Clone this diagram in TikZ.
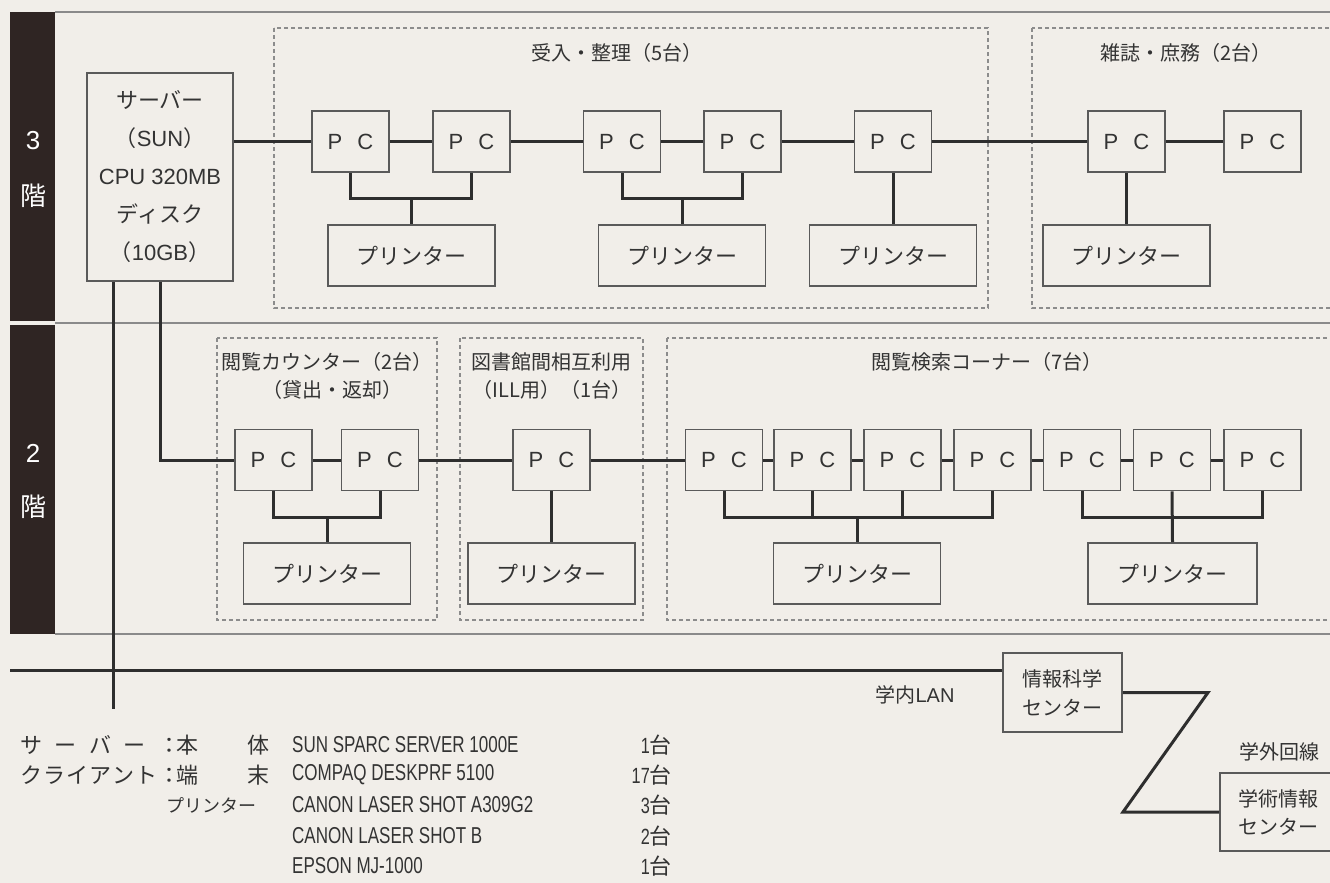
\documentclass[tikz,border=0pt]{standalone}
\usepackage{fontspec}
\setmainfont{Noto Sans CJK JP}
\newfontfamily\lat{Liberation Sans}
\newfontfamily\latn[FakeStretch=0.74]{Liberation Sans}
\definecolor{bg}{HTML}{F1EEE9}
\definecolor{ink}{HTML}{333333}
\definecolor{wirec}{HTML}{2E2E2E}
\definecolor{band}{HTML}{2F2523}
\definecolor{boxline}{HTML}{5A5A5A}
\definecolor{dashc}{HTML}{8C8C8C}
\definecolor{rule}{HTML}{8A8A8A}
\begin{document}
\begin{tikzpicture}[x=1pt,y=-1pt,
  box/.style={draw=boxline, line width=1.8pt, fill=bg, inner sep=0pt, text=ink},
  pc/.style={box, minimum width=77pt, minimum height=61pt, font=\fontsize{22}{22}\selectfont\lat},
  prn/.style={box, minimum width=167pt, minimum height=61pt, font=\fontsize{22}{22}\selectfont},
  area/.style={draw=dashc, line width=1.3pt, dash pattern=on 4pt off 3pt},
  wire/.style={draw=wirec, line width=3pt},
  lbl/.style={text=ink, inner sep=0pt, font=\fontsize{20}{24}\selectfont},
  lst/.style={text=ink, inner sep=0pt, font=\fontsize{22}{22}\selectfont},
  lstl/.style={text=ink, inner sep=0pt, font=\fontsize{23}{23}\selectfont\latn},
  floorlbl/.style={text=white, inner sep=0pt, font=\fontsize{26}{26}\selectfont},
  rulestyle/.style={draw=rule, line width=1.3pt}]
\fill[bg] (0,0) rectangle (1330,883);
\useasboundingbox (0,0) rectangle (1330,883);

% floor bands and rules
\fill[band] (10,12) rectangle (55,321);
\fill[band] (10,325) rectangle (55,634);
\draw[rulestyle] (55,12) -- (1330,12);
\draw[rulestyle] (55,323) -- (1330,323);
\draw[rulestyle] (55,634) -- (1330,634);
\node[floorlbl] (f3) at (33,141) {\lat 3};
\node[floorlbl] (f3k) at (33,196) {階};
\node[floorlbl] (f2) at (33,453) {\lat 2};
\node[floorlbl] (f2k) at (33,507) {階};

% dashed areas
\draw[area] (274,28) rectangle (988,308);
\draw[area] (1032,28) rectangle (1345,308);
\draw[area] (217,338) rectangle (437,620);
\draw[area] (460,338) rectangle (643,620);
\draw[area] (667,338) rectangle (1345,620);

\node[lbl] (a1) at (617,53) {受入・整理（5台）};
\node[lbl] (a2) at (1186,53) {雑誌・庶務（2台）};
\node[lbl] (a3) at (327,362) {閲覧カウンター（2台）};
\node[lbl] (a3b) at (332,390) {（貸出・返却）};
\node[lbl] (a4) at (551,362) {図書館間相互利用};
\node[lbl] (a4b) at (552,390) {（ILL用）（1台）};
\node[lbl] (a5) at (987,362) {閲覧検索コーナー（7台）};

% server
\node[box, minimum width=146pt, minimum height=208pt, align=center,
  font=\fontsize{22}{38}\selectfont] (srv) at (160,177)
  {サーバー\\（{\lat SUN}）\\{\lat CPU 320MB}\\ディスク\\（{\lat 10GB}）};

% 3F PCs
\node[pc] (p1) at (350.5,141.5) {P\hspace{15pt}C};
\node[pc] (p2) at (471.5,141.5) {P\hspace{15pt}C};
\node[pc] (p3) at (622,141.5) {P\hspace{15pt}C};
\node[pc] (p4) at (742.5,141.5) {P\hspace{15pt}C};
\node[pc] (p5) at (893,141.5) {P\hspace{15pt}C};
\node[pc] (p6) at (1126.5,141.5) {P\hspace{15pt}C};
\node[pc] (p7) at (1262.5,141.5) {P\hspace{15pt}C};
% 3F printers
\node[prn] (q1) at (411.5,255.5) {プリンター};
\node[prn] (q2) at (682,255.5) {プリンター};
\node[prn] (q3) at (893,255.5) {プリンター};
\node[prn] (q4) at (1126.5,255.5) {プリンター};

% 2F PCs
\node[pc] (p8) at (273.5,460) {P\hspace{15pt}C};
\node[pc] (p9) at (380,460) {P\hspace{15pt}C};
\node[pc] (p10) at (551.5,460) {P\hspace{15pt}C};
\node[pc] (p11) at (724,460) {P\hspace{15pt}C};
\node[pc] (p12) at (812.5,460) {P\hspace{15pt}C};
\node[pc] (p13) at (902.5,460) {P\hspace{15pt}C};
\node[pc] (p14) at (992.5,460) {P\hspace{15pt}C};
\node[pc] (p15) at (1082,460) {P\hspace{15pt}C};
\node[pc] (p16) at (1172,460) {P\hspace{15pt}C};
\node[pc] (p17) at (1262.5,460) {P\hspace{15pt}C};
% 2F printers
\node[prn] (q5) at (327,573.5) {プリンター};
\node[prn] (q6) at (551.5,573.5) {プリンター};
\node[prn] (q7) at (857,573.5) {プリンター};
\node[prn, minimum width=169pt] (q8) at (1172.5,573.5) {プリンター};

% centers
\node[box, minimum width=119pt, minimum height=79pt, align=center,
  font=\fontsize{20}{29}\selectfont] (info) at (1062.5,692.5) {情報科学\\センター};
\node[box, minimum width=116pt, minimum height=78pt, align=center,
  font=\fontsize{20}{28}\selectfont] (gak) at (1278,812) {学術情報\\センター};
\node[lbl] (lan) at (915,695) {学内{\lat LAN}};
\node[lbl] (ext) at (1279,752) {学外回線};

% coordinates
\coordinate (b1) at (411.5,198);
\coordinate (b2) at (682,198);
\coordinate (b3) at (327,517);
\coordinate (b4) at (857,517);
\coordinate (b5) at (1172,517);
\coordinate (lanL) at (10,670);
\coordinate (lanE) at (113,709);
\coordinate (z1) at (1208,692.5);
\coordinate (z2) at (1123,812);

% 3F wiring
\draw[wire] (srv.east |- p1.west) -- (p1.west);
\draw[wire] (p1) -- (p2);
\draw[wire] (p2) -- (p3);
\draw[wire] (p3) -- (p4);
\draw[wire] (p4) -- (p5);
\draw[wire] (p5) -- (p6);
\draw[wire] (p6) -- (p7);
\draw[wire] (p1.south) |- (b1) -| (p2.south);
\draw[wire] (b1) -- (q1.north);
\draw[wire] (p3.south) |- (b2) -| (p4.south);
\draw[wire] (b2) -- (q2.north);
\draw[wire] (p5.south) -- (q3.north);
\draw[wire] (p6.south) -- (q4.north);

% server downlinks
\draw[wire] (srv.south -| lanE) -- (lanE);
\draw[wire] (srv.south) |- (p8.west);

% 2F wiring
\draw[wire] (p8) -- (p9);
\draw[wire] (p9) -- (p10);
\draw[wire] (p10) -- (p11);
\draw[wire] (p11) -- (p12);
\draw[wire] (p12) -- (p13);
\draw[wire] (p13) -- (p14);
\draw[wire] (p14) -- (p15);
\draw[wire] (p15) -- (p16);
\draw[wire] (p16) -- (p17);
\draw[wire] (p8.south) |- (b3) -| (p9.south);
\draw[wire] (b3) -- (q5.north);
\draw[wire] (p10.south) -- (q6.north);
\draw[wire] (p11.south) |- (b4) -| (p14.south);
\draw[wire] (p12.south) -- (p12.south |- b4);
\draw[wire] (p13.south) -- (p13.south |- b4);
\draw[wire] (b4) -- (q7.north);
\draw[wire] (p15.south) |- (b5) -| (p17.south);
\draw[wire] (p16.south) -- (q8.north);

% LAN
\draw[wire] (lanL) -- (lanL -| info.west);
\draw[wire] (info.east) -- (z1) -- (z2) -- (gak.west);

% spec list
\node[lst,anchor=west] (r1a) at (20,745) {\makebox[160pt][s]{サ\hfill ー\hfill バ\hfill ー\hfill ：}};
\node[lst,anchor=west] (r1b) at (176,745) {本};
\node[lst,anchor=east] (r1c) at (270,745) {体};
\node[lstl,anchor=west] (r1d) at (292,745) {SUN SPARC SERVER 1000E};
\node[lst,anchor=east] (r1e) at (672,745) {{\latn 1}台};

\node[lst,anchor=west] (r2a) at (20,775) {\makebox[160pt][s]{ク\hfill ラ\hfill イ\hfill ア\hfill ン\hfill ト\hfill ：}};
\node[lst,anchor=west] (r2b) at (176,775) {端};
\node[lst,anchor=east] (r2c) at (270,775) {末};
\node[lstl,anchor=west] (r2d) at (292,775) {COMPAQ DESKPRF 5100};
\node[lst,anchor=east] (r2e) at (672,775) {{\latn 17}台};

\node[lst,anchor=east,font=\fontsize{18}{18}\selectfont] (r3a) at (257,805) {プリンター};
\node[lstl,anchor=west] (r3d) at (292,805) {CANON LASER SHOT A309G2};
\node[lst,anchor=east] (r3e) at (672,805) {{\latn 3}台};

\node[lstl,anchor=west] (r4d) at (292,836) {CANON LASER SHOT B};
\node[lst,anchor=east] (r4e) at (672,836) {{\latn 2}台};

\node[lstl,anchor=west] (r5d) at (292,866) {EPSON MJ-1000};
\node[lst,anchor=east] (r5e) at (672,866) {{\latn 1}台};
\end{tikzpicture}
\end{document}
